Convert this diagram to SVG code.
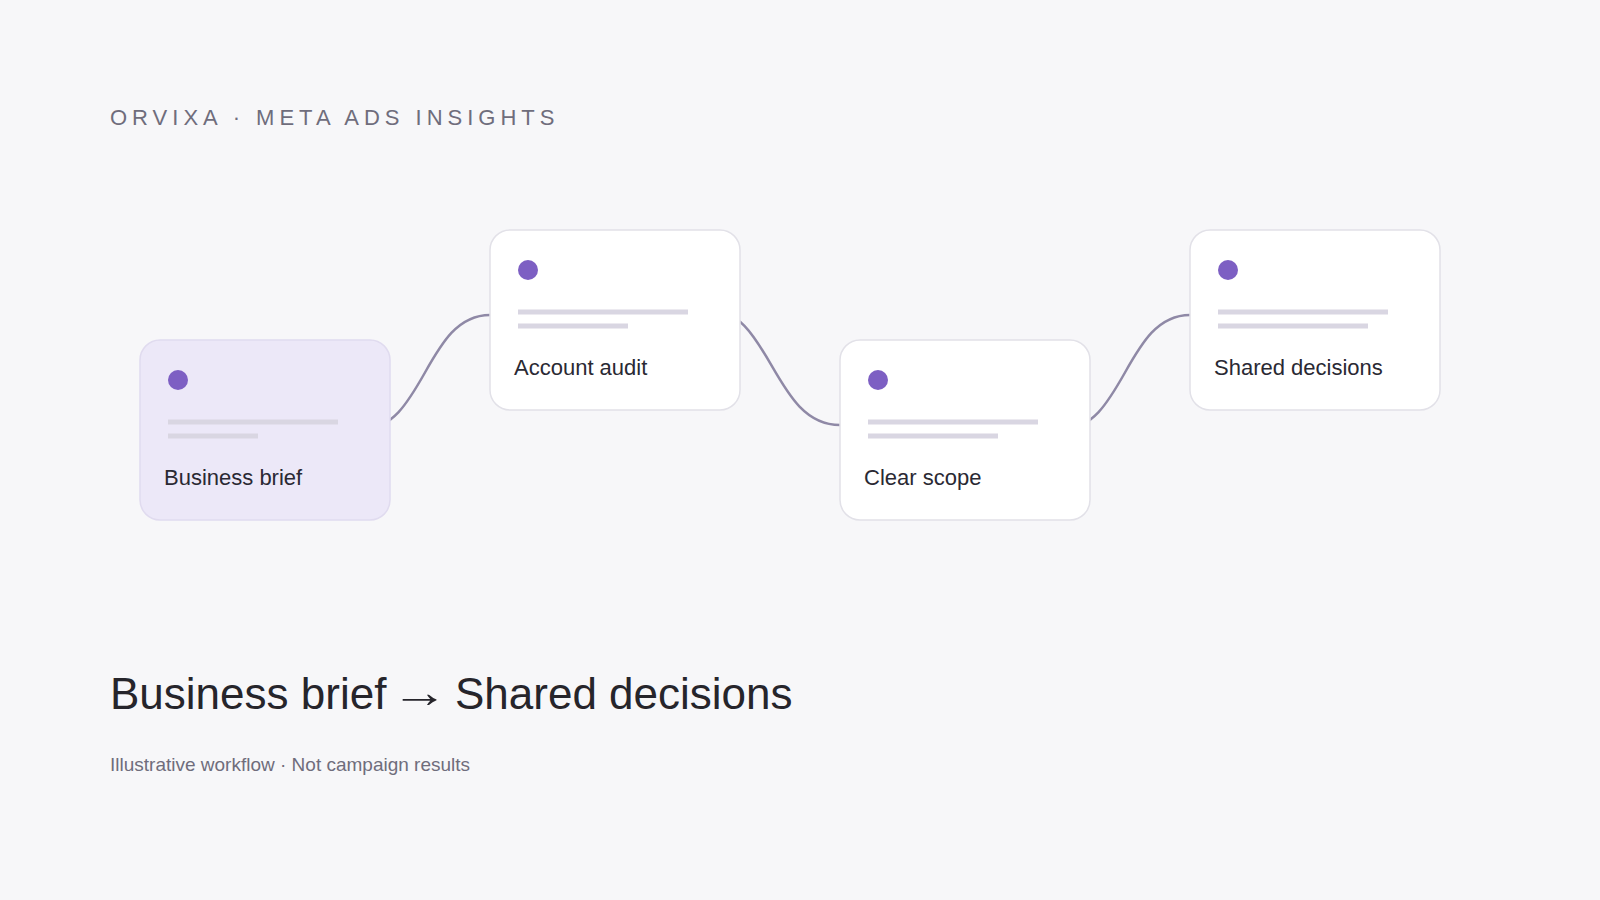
<svg xmlns="http://www.w3.org/2000/svg" width="1600" height="900" viewBox="0 0 1600 900">
  <style>
    .card { fill: #ffffff; stroke: #e2e1e8; stroke-width: 1.5; }
    .card.active { fill: #ece8f8; stroke: #e0dbef; }
    .dot { fill: #7d5fc3; }
    .bar { fill: #d9d6e2; }
    .label { font-family: "Liberation Sans", Arial, sans-serif; font-size: 22px; fill: #2a2933; }
    .conn { fill: none; stroke: #8f89a6; stroke-width: 2.5; stroke-linecap: round; }
    .eyebrow { font-family: "Liberation Sans", Arial, sans-serif; font-size: 22px; letter-spacing: 5px; fill: #6f6d7c; }
    .title { font-family: "Liberation Sans", Arial, sans-serif; font-size: 44px; fill: #26252b; }
    .sub { font-family: "Liberation Sans", Arial, sans-serif; font-size: 19px; fill: #6f6d7c; }
  </style>
  <rect width="1600" height="900" fill="#f7f7f9"/>

  <text class="eyebrow" x="110" y="125">ORVIXA · META ADS INSIGHTS</text>

  <g id="connectors">
    <path class="conn" d="M 360 430 C 425 430 425 315 490 315"/>
    <path class="conn" d="M 705 308 C 772 308 772 425 840 425"/>
    <path class="conn" d="M 1060 430 C 1125 430 1125 315 1190 315"/>
  </g>

  <g id="node-business-brief">
    <rect class="card active" x="140" y="340" width="250" height="180" rx="20"/>
    <circle class="dot" cx="178" cy="380" r="10"/>
    <rect class="bar" x="168" y="419.5" width="170" height="5"/>
    <rect class="bar" x="168" y="433.5" width="90" height="5"/>
    <text class="label" x="164" y="485">Business brief</text>
  </g>

  <g id="node-account-audit">
    <rect class="card" x="490" y="230" width="250" height="180" rx="20"/>
    <circle class="dot" cx="528" cy="270" r="10"/>
    <rect class="bar" x="518" y="309.5" width="170" height="5"/>
    <rect class="bar" x="518" y="323.5" width="110" height="5"/>
    <text class="label" x="514" y="375">Account audit</text>
  </g>

  <g id="node-clear-scope">
    <rect class="card" x="840" y="340" width="250" height="180" rx="20"/>
    <circle class="dot" cx="878" cy="380" r="10"/>
    <rect class="bar" x="868" y="419.5" width="170" height="5"/>
    <rect class="bar" x="868" y="433.5" width="130" height="5"/>
    <text class="label" x="864" y="485">Clear scope</text>
  </g>

  <g id="node-shared-decisions">
    <rect class="card" x="1190" y="230" width="250" height="180" rx="20"/>
    <circle class="dot" cx="1228" cy="270" r="10"/>
    <rect class="bar" x="1218" y="309.5" width="170" height="5"/>
    <rect class="bar" x="1218" y="323.5" width="150" height="5"/>
    <text class="label" x="1214" y="375">Shared decisions</text>
  </g>

  <g id="title">
    <text class="title" x="110" y="709">Business brief</text>
    <text class="title" transform="translate(391 707) scale(1.3 1)" x="0" y="0">→</text>
    <text class="title" x="455" y="709">Shared decisions</text>
  </g>
  <text class="sub" x="110" y="771">Illustrative workflow · Not campaign results</text>
</svg>
